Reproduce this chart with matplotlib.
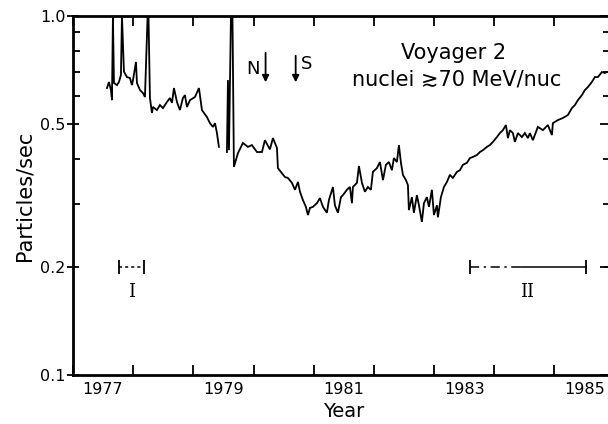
import numpy as np
import matplotlib
matplotlib.use("Agg")
import matplotlib.pyplot as plt
from matplotlib.ticker import FixedLocator, FixedFormatter, NullFormatter

# Voyager 2 count rate, nuclei >= 70 MeV/nuc
# spikes reaching the top of the frame are entered as 1.0, nan = data gap
years = [
    1977.565, 1977.598, 1977.631, 1977.648, 1977.664, 1977.681, 1977.731, 1977.764,
    1977.797, 1977.814, 1977.847, 1977.897, 1977.947, 1977.980, 1977.997, 1978.047,
    1978.063, 1978.113, 1978.163, 1978.196, 1978.240, 1978.255, 1978.279, 1978.312,
    1978.329, 1978.395, 1978.445, 1978.495, 1978.561, 1978.611, 1978.645, 1978.678,
    1978.728, 1978.777, 1978.827, 1978.860, 1978.894, 1978.944, 1979.027, 1979.093,
    1979.143, 1979.226, 1979.276, 1979.326, 1979.360, 1979.392, 1979.425, 1979.490,
    1979.558, 1979.575, 1979.592, 1979.625, 1979.650, 1979.674, 1979.741, 1979.824,
    1979.907, 1979.973, 1980.056, 1980.140, 1980.189, 1980.272, 1980.322, 1980.389,
    1980.405, 1980.472, 1980.522, 1980.571, 1980.638, 1980.688, 1980.738, 1980.771,
    1980.821, 1980.870, 1980.904, 1980.937, 1980.987, 1981.053, 1981.103, 1981.153,
    1981.219, 1981.252, 1981.319, 1981.352, 1981.402, 1981.452, 1981.485, 1981.551,
    1981.601, 1981.635, 1981.651, 1981.718, 1981.751, 1981.801, 1981.850, 1981.900,
    1981.950, 1981.983, 1982.050, 1982.100, 1982.150, 1982.199, 1982.249, 1982.299,
    1982.332, 1982.382, 1982.415, 1982.449, 1982.482, 1982.532, 1982.565, 1982.581,
    1982.631, 1982.664, 1982.714, 1982.748, 1982.797, 1982.831, 1982.880, 1982.914,
    1982.963, 1982.997, 1983.047, 1983.063, 1983.113, 1983.163, 1983.213, 1983.262,
    1983.312, 1983.379, 1983.429, 1983.478, 1983.545, 1983.595, 1983.645, 1983.711,
    1983.761, 1983.811, 1983.877, 1983.927, 1983.977, 1984.043, 1984.093, 1984.143,
    1984.193, 1984.226, 1984.259, 1984.309, 1984.342, 1984.392, 1984.458, 1984.508,
    1984.558, 1984.591, 1984.641, 1984.724, 1984.807, 1984.890, 1984.957, 1984.973,
    1985.056, 1985.140, 1985.223, 1985.289, 1985.339, 1985.389, 1985.455, 1985.505,
    1985.555, 1985.621, 1985.671, 1985.721, 1985.787, 1985.837, 1985.870,
]
rates = [
    0.630, 0.655, 0.622, 0.583, 1.000, 0.651, 0.642, 0.655,
    0.685, 1.000, 0.700, 0.676, 0.672, 0.642, 0.663, 0.745,
    0.651, 0.622, 0.610, 0.595, 1.000, 1.000, 0.591, 0.537,
    0.558, 0.547, 0.565, 0.554, 0.576, 0.591, 0.573, 0.630,
    0.576, 0.547, 0.591, 0.602, 0.558, 0.583, 0.595, 0.630,
    0.547, 0.523, 0.503, 0.491, 0.503, 0.472, 0.432, np.nan,
    0.418, 0.663, 0.423, 1.000, 1.000, 0.380, 0.415, 0.443,
    0.432, 0.437, 0.418, 0.418, 0.451, 0.425, 0.457, 0.429,
    0.377, 0.365, 0.356, 0.354, 0.343, 0.328, 0.345, 0.324,
    0.307, 0.294, 0.279, 0.292, 0.294, 0.301, 0.311, 0.294,
    0.283, 0.307, 0.334, 0.297, 0.283, 0.313, 0.317, 0.328,
    0.334, 0.301, 0.334, 0.343, 0.382, 0.343, 0.324, 0.334,
    0.328, 0.368, 0.377, 0.392, 0.349, 0.385, 0.392, 0.372,
    0.402, 0.392, 0.437, 0.390, 0.361, 0.349, 0.338, 0.288,
    0.313, 0.283, 0.317, 0.297, 0.267, 0.301, 0.313, 0.294,
    0.328, 0.279, 0.297, 0.275, 0.313, 0.334, 0.345, 0.361,
    0.354, 0.368, 0.372, 0.385, 0.390, 0.402, 0.405, 0.410,
    0.418, 0.423, 0.432, 0.437, 0.446, 0.460, 0.472, 0.481,
    0.497, 0.457, 0.481, 0.472, 0.446, 0.472, 0.460, 0.472,
    0.457, 0.472, 0.451, 0.491, 0.481, 0.497, 0.466, 0.503,
    0.513, 0.520, 0.530, 0.554, 0.565, 0.583, 0.602, 0.622,
    0.634, 0.655, 0.676, 0.676, 0.698, 0.694, 0.698,
]

# marked periods
period_I = (1977.76, 1978.18)
period_II_dashed = (1983.59, 1984.45)
period_II_solid = (1984.45, 1985.52)
period_next = (1985.82, 1986.0)
period_level = 0.2

# event arrows
event_names = ["N", "S"]
event_years = [1980.2, 1980.7]

year_labels = ["1977", "1979", "1981", "1983", "1985"]
year_label_pos = [1977.5, 1979.5, 1981.5, 1983.5, 1985.5]
y_major = [0.1, 0.2, 0.5, 1.0]
y_major_labels = ["0.1", "0.2", "0.5", "1.0"]
y_minor = [0.3, 0.4, 0.6, 0.7, 0.8, 0.9]

plt.rcParams["font.family"] = "DejaVu Sans"

fig = plt.figure(figsize=(6.08, 4.24), dpi=100)
ax = fig.add_axes([0.120, 0.1156, 0.891, 0.8466])

ax.plot(years, rates, color="black", lw=1.3, solid_joinstyle="miter")

ax.set_yscale("log")
ax.set_xlim(1977, 1986)
ax.set_ylim(0.1, 1.0)

# periods I and II
ax.plot(period_I, [period_level] * 2, color="black", lw=1.1, ls=(0, (2, 2)))
ax.plot(period_I, [period_level] * 2, ls="none", marker="|", ms=10, mew=1.3, color="black")
ax.text(np.mean(period_I), 0.170, "I", family="DejaVu Serif", fontsize=13,
        ha="center", va="center")

ax.plot(period_II_dashed, [period_level] * 2, color="black", lw=1.1, ls=(0, (6, 3, 1.5, 3)))
ax.plot(period_II_solid, [period_level] * 2, color="black", lw=1.1)
ax.plot([period_II_dashed[0], period_II_solid[1]], [period_level] * 2, ls="none",
        marker="|", ms=10, mew=1.3, color="black")
ax.plot(period_next, [period_level] * 2, color="black", lw=1.1, ls=(0, (6, 3, 1.5, 3)))
ax.text(1984.54, 0.170, "II", family="DejaVu Serif", fontsize=13,
        ha="center", va="center")

# N / S arrows
ax.annotate("", xy=(event_years[0], 0.642), xytext=(event_years[0], 0.804),
            arrowprops=dict(arrowstyle="-|>", color="black", lw=1.3, mutation_scale=10))
ax.annotate("", xy=(event_years[1], 0.642), xytext=(event_years[1], 0.789),
            arrowprops=dict(arrowstyle="-|>", color="black", lw=1.3, mutation_scale=10))
ax.text(event_years[0] - 0.1, 0.71, event_names[0], fontsize=13, ha="right", va="center")
ax.text(event_years[1] + 0.08, 0.735, event_names[1], fontsize=13, ha="left", va="center")

ax.text(1983.33, 0.79, "Voyager 2", fontsize=15, ha="center", va="center")
ax.text(1983.38, 0.665, "nuclei \u227370 MeV/nuc", fontsize=15, ha="center", va="center")

# axes cosmetics
for sp in ax.spines.values():
    sp.set_linewidth(2.0)

ax.xaxis.set_major_locator(FixedLocator(np.arange(1977, 1987)))
ax.xaxis.set_major_formatter(NullFormatter())
ax.xaxis.set_minor_locator(FixedLocator(year_label_pos))
ax.xaxis.set_minor_formatter(FixedFormatter(year_labels))
ax.tick_params(axis="x", which="major", direction="in", length=7, width=1.3,
               top=True, bottom=True)
ax.tick_params(axis="x", which="minor", length=0, labelsize=11.5, pad=5)

ax.yaxis.set_major_locator(FixedLocator(y_major))
ax.yaxis.set_major_formatter(FixedFormatter(y_major_labels))
ax.yaxis.set_minor_locator(FixedLocator(y_minor))
ax.yaxis.set_minor_formatter(NullFormatter())
ax.tick_params(axis="y", which="major", direction="inout", length=9, width=1.3,
               labelsize=11.5, pad=1, right=True)
ax.tick_params(axis="y", which="minor", direction="in", length=5, width=1.3, right=True)

# right frame sits just past the picture edge, so make its ticks longer
for t in ax.yaxis.get_minor_ticks():
    t.tick2line.set_markersize(8.5)
for t in ax.yaxis.get_major_ticks():
    t.tick2line.set_markersize(22)

ax.set_xlabel("Year", fontsize=14, labelpad=4)
ax.set_ylabel("Particles/sec", fontsize=15, labelpad=4)

fig.savefig("out.png", dpi=100)
